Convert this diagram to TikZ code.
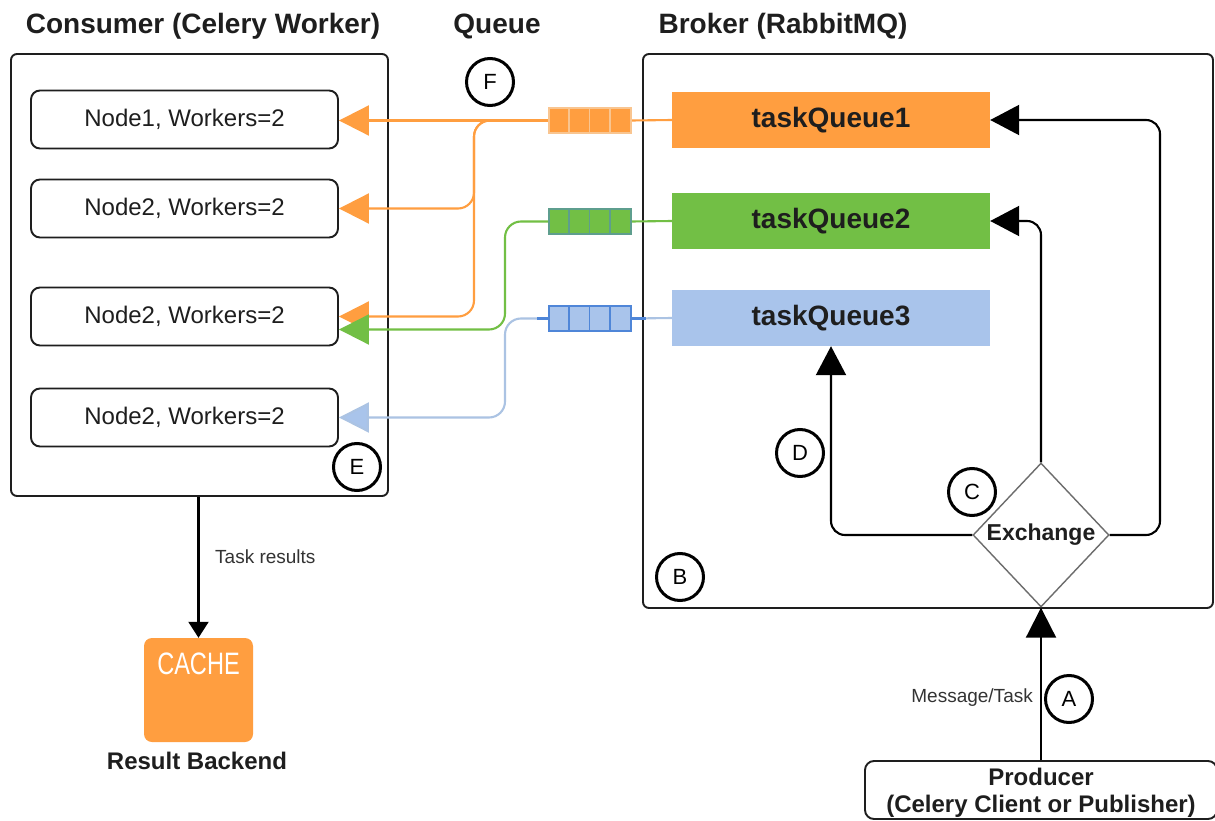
\documentclass[tikz,border=0pt]{standalone}
\usepackage{fontspec}
\usepackage{graphicx}
\setmainfont{Liberation Sans}
\usetikzlibrary{arrows.meta,shapes.geometric}
\definecolor{qorange}{HTML}{FF9E40}
\definecolor{qgreen}{HTML}{72BF45}
\definecolor{qblue}{HTML}{A9C4EB}
\definecolor{qblueline}{HTML}{ABC3E3}
\definecolor{qbluedark}{HTML}{4F86D8}
\definecolor{qgreenedge}{HTML}{5E9E8E}
\definecolor{qorangeedge}{HTML}{F9C590}
\definecolor{ink}{HTML}{1E1E1E}
\definecolor{soft}{HTML}{333333}
\begin{document}
\begin{tikzpicture}[x=1pt,y=-1pt,
  hdr/.style={font=\fontsize{28}{32}\selectfont\bfseries, text=ink, inner sep=0pt, anchor=base},
  panel/.style={draw=ink, line width=1.9pt, rounded corners=6pt, inner sep=0pt},
  wnode/.style={draw=ink, line width=1.9pt, rounded corners=9pt, minimum width=307pt, minimum height=58pt, font=\fontsize{24}{28}\selectfont, text=ink},
  tq/.style={minimum width=318pt, minimum height=56pt, font=\fontsize{28}{32}\selectfont\bfseries, text=ink},
  qicon/.style={minimum width=82pt, minimum height=25pt, line width=1.2pt, inner sep=0pt},
  circ/.style={circle, draw=black, line width=3pt, minimum size=47pt, inner sep=0pt, font=\fontsize{22}{24}\selectfont},
  cline/.style={line width=2.1pt, rounded corners=16pt},
  chead/.style={-{Triangle[length=30pt,width=30pt]}},
  bline/.style={draw=black, line width=2.1pt, rounded corners=14pt},
  small/.style={font=\fontsize{19}{22}\selectfont, text=soft, inner sep=0pt},
  boldlbl/.style={font=\fontsize{24}{27}\selectfont\bfseries, text=ink, inner sep=0pt, anchor=base}
]
\useasboundingbox (0,0) rectangle (1215,821);
\clip (0,0) rectangle (1215,821);
\fill[white] (0,0) rectangle (1215,821);

% headers
\node[hdr] (hcons) at (203,34) {Consumer (Celery Worker)};
\node[hdr] (hqueue) at (497,34) {Queue};
\node[hdr] (hbroker) at (783,34) {Broker (RabbitMQ)};

% panels
\node[panel, minimum width=377pt, minimum height=442pt] (cons) at (199.5,275) {};
\node[panel, minimum width=570pt, minimum height=554pt] (broker) at (928,331) {};

% worker nodes
\node[wnode] (n1) at (184.5,119.5) {Node1, Workers=2};
\node[wnode] (n2) at (184.5,208.5) {Node2, Workers=2};
\node[wnode] (n3) at (184.5,316.5) {Node2, Workers=2};
\node[wnode] (n4) at (184.5,417.5) {Node2, Workers=2};

% task queues
\node[tq, fill=qorange] (tq1) at (831,120) {taskQueue1};
\node[tq, fill=qgreen] (tq2) at (831,221) {taskQueue2};
\node[tq, fill=qblue] (tq3) at (831,318) {taskQueue3};

% queue icons
\node[qicon, fill=qorange, draw=qorangeedge] (qi1) at (590,120.5) {};
\node[qicon, fill=qgreen, draw=qgreenedge] (qi2) at (590,221.5) {};
\node[qicon, fill=qblue, draw=qbluedark] (qi3) at (590,318.5) {};

% exchange and producer
\node[diamond, draw=gray!85!black, line width=1.4pt, minimum width=136pt, minimum height=144pt, inner sep=0pt, aspect=0.94, font=\fontsize{23}{26}\selectfont\bfseries, text=ink] (ex) at (1041,535) {Exchange};
\node[draw=ink, line width=1.9pt, rounded corners=9pt, minimum width=352pt, minimum height=58pt] (prod) at (1041,790) {};
\node[boldlbl] (prod1) at (1041,785) {Producer};
\node[boldlbl] (prod2) at (1041,812) {(Celery Client or Publisher)};

% result backend
\node[fill=qorange, rounded corners=8pt, minimum width=109pt, minimum height=104pt] (cache) at (198.5,690) {};
\node[text=white, font=\fontsize{31}{32}\selectfont, inner sep=0pt] (cachetxt) at (198.5,664) {\scalebox{0.76}[1]{CACHE}};
\node[boldlbl] (rb) at (197,769) {Result Backend};

% orange connectors
\coordinate (ov) at (474,0);
\draw[qorange, cline] (tq1.west) -- (qi1.east);
\draw[qorange, cline, chead] (qi1.west) -- (qi1.west -| n1.east);
\draw[qorange, cline, chead] (qi1.west) -| (ov |- n2.east) -- (n2.east);
\draw[qorange, cline, chead] (qi1.west) -| (ov |- n3.east) -- (n3.east);

% green connectors
\coordinate (n3g) at ([yshift=-13pt]n3.east);
\coordinate (gv) at (505,0);
\draw[qgreen, cline] (tq2.west) -- (qi2.east);
\draw[qgreen, cline, chead] (qi2.west) -| (gv |- n3g) -- (n3g);

% blue connectors
\coordinate (bv) at (505,0);
\draw[qblueline, cline] (tq3.west) -- (qi3.east);
\draw[qblueline, cline, -{Triangle[length=30pt,width=30pt,fill=qblue]}] (qi3.west) -| (bv |- n4.east) -- (n4.east);
\draw[qbluedark, line width=2.1pt] (qi3.west) -- ++(-11,0);
\draw[qbluedark, line width=2.1pt] (qi3.east) -- ++(14,0);

% redraw icons on top, with cell dividers
\node[qicon, fill=qorange, draw=qorangeedge] (qi1b) at (qi1) {};
\node[qicon, fill=qgreen, draw=qgreenedge] (qi2b) at (qi2) {};
\node[qicon, fill=qblue, draw=qbluedark] (qi3b) at (qi3) {};
\foreach \k in {1,2,3}{
  \draw[qorangeedge, line width=1.2pt] ([xshift=\k*20.5pt]qi1b.north west) -- ([xshift=\k*20.5pt]qi1b.south west);
  \draw[qgreenedge, line width=1.2pt] ([xshift=\k*20.5pt]qi2b.north west) -- ([xshift=\k*20.5pt]qi2b.south west);
  \draw[qbluedark, line width=1.2pt] ([xshift=\k*20.5pt]qi3b.north west) -- ([xshift=\k*20.5pt]qi3b.south west);
}

% black connectors
\coordinate (c1) at (1160,120);
\draw[bline, -{Triangle[length=29pt,width=30pt]}] (ex.east) -| (c1) -- (tq1.east);
\draw[bline, -{Triangle[length=29pt,width=30pt]}] (ex.north) |- (tq2.east);
\draw[bline, -{Triangle[length=29pt,width=30pt]}] (ex.west) -| (tq3.south);
\draw[bline, -{Triangle[length=30pt,width=30pt]}] (prod.north) -- (ex.south);
\draw[bline, -{Triangle[length=16pt,width=20pt]}] (cons.south -| cache.north) -- (cache.north);

% labels
\node[small, anchor=base east] (lmsg) at (1033,702) {Message/Task};
\node[small, anchor=base west] (ltask) at (215,563) {Task results};

% markers
\node[circ] (cA) at (1069,699) {A};
\node[circ] (cB) at (680,577) {B};
\node[circ] (cC) at (972,492) {C};
\node[circ] (cD) at (800,453) {D};
\node[circ] (cE) at (357,467) {E};
\node[circ] (cF) at (490,82) {F};
\end{tikzpicture}
\end{document}
